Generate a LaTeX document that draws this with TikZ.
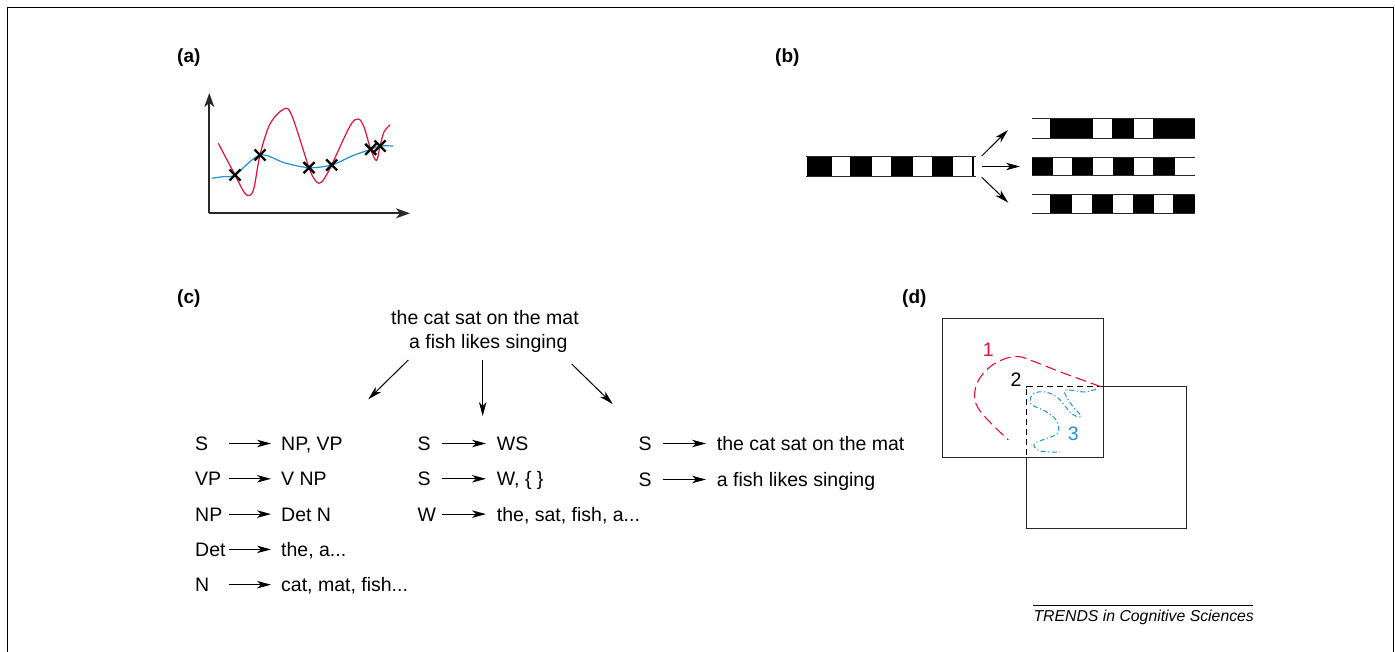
\documentclass[tikz,border=0pt]{standalone}
\usepackage{fontspec}
\setmainfont{Liberation Sans}
\usetikzlibrary{arrows.meta}
\definecolor{myred}{RGB}{222,16,56}
\definecolor{myblue}{RGB}{28,146,208}
\definecolor{axisgrey}{RGB}{40,40,40}
\begin{document}
\begin{tikzpicture}[x=1pt,y=-1pt,
  txt/.style={font=\fontsize{19.5}{23}\selectfont, inner sep=0pt, anchor=base west},
  ctxt/.style={font=\fontsize{19.5}{23}\selectfont, inner sep=0pt, anchor=base},
  lab/.style={font=\bfseries\fontsize{19}{23}\selectfont, inner sep=0pt, anchor=base west},
  arr/.style={-{Stealth[length=14pt,width=7.5pt,inset=4pt]}, line width=1pt},
  axisline/.style={-{Stealth[length=14pt,width=10pt,inset=4pt]}, line width=1.8pt, draw=axisgrey},
  cross/.style={line width=2.4pt},
  stripline/.style={line width=1pt, draw=axisgrey},
  sq/.style={line width=1pt, draw=black!85},
]
\useasboundingbox (0,0) rectangle (1395,652);
% frame
\draw[line width=1pt] (7.3,652) -- (7.3,7.3) -- (1393.3,7.3) -- (1393.3,652);

% panel labels
\node[lab] (la) at (177,63) {(a)};
\node[lab] (lb) at (775,63) {(b)};
\node[lab] (lc) at (177,304) {(c)};
\node[lab] (ld) at (902,304) {(d)};

% ---------------- panel (a)
\coordinate (orig) at (209.3,213.3);
\coordinate (ytip) at (209.3,93);
\coordinate (xtip) at (410,213.3);
\draw[axisline] (orig) -- (ytip);
\draw[axisline] (orig) -- (xtip);
\draw[myred, line width=1.2pt] plot[smooth, tension=0.55] coordinates {
  (218.3,143.3) (235,175) (244,192) (249.5,195.5) (254,188) (260,155) (270,124) (284,109) (292,116)
  (309,167.7) (315,180) (319.3,183.3) (324,179) (331.7,165) (350,126) (358.3,119) (364,127)
  (370.7,149.3) (376.5,160.5) (380,146) (384,132) (390,125)};
\draw[myblue, line width=1.2pt] plot[smooth, tension=0.5] coordinates {
  (211.7,178.3) (224,176.5) (235,175) (260,155) (285,163) (309,167.7) (331.7,165) (352,156)
  (370.7,149.3) (380,146) (393.3,146)};
\foreach \px/\py [count=\i] in {235/175, 260/155, 309/167.7, 331.7/165, 370.7/149.3, 380/146}{
  \coordinate (x\i) at (\px,\py);
  \draw[cross] ([shift={(-5.5,-5.5)}]x\i) -- ([shift={(5.5,5.5)}]x\i);
  \draw[cross] ([shift={(-5.5,5.5)}]x\i) -- ([shift={(5.5,-5.5)}]x\i);
}

% ---------------- panel (b)
% left strip
\foreach \a/\b in {807/831.7, 850/871.7, 891/912.7, 932.3/953.3, 971.7/974}
  \fill (\a,157) rectangle (\b,176.5);
\draw[stripline] (806,157) -- (976,157);
\draw[stripline] (806,176.5) -- (976,176.5);
% top right strip
\foreach \a/\b in {1050/1092.7, 1111.7/1134, 1153/1195}
  \fill (\a,119) rectangle (\b,138.3);
\draw[stripline] (1031.7,119) -- (1195,119);
\draw[stripline] (1031.7,138.3) -- (1195,138.3);
% middle right strip
\foreach \a/\b in {1031.7/1053.3, 1071.7/1092.7, 1112.7/1134, 1153.3/1175}
  \fill (\a,157.3) rectangle (\b,176);
\draw[stripline] (1031.7,157.3) -- (1195,157.3);
\draw[stripline] (1031.7,176) -- (1195,176);
% bottom right strip
\foreach \a/\b in {1050/1071.7, 1091.7/1112.7, 1133.3/1154, 1173.3/1195}
  \fill (\a,195) rectangle (\b,214);
\draw[stripline] (1031.7,195) -- (1195,195);
\draw[stripline] (1031.7,214) -- (1195,214);
% arrows
\coordinate (b1s) at (981.7,156);   \coordinate (b1e) at (1008,130);
\coordinate (b2s) at (981.7,166.5); \coordinate (b2e) at (1020,166.5);
\coordinate (b3s) at (981.7,177.3); \coordinate (b3e) at (1008.3,202.7);
\draw[arr] (b1s) -- (b1e);
\draw[arr] (b2s) -- (b2e);
\draw[arr] (b3s) -- (b3e);

% ---------------- panel (c)
\node[ctxt] (s1) at (485,324.3) {the cat sat on the mat};
\node[ctxt] (s2) at (488.3,348.3) {a fish likes singing};
\coordinate (c1s) at (408.3,360);   \coordinate (c1e) at (368.3,399.3);
\coordinate (c2s) at (482.7,360);   \coordinate (c2e) at (482.7,416);
\coordinate (c3s) at (571.7,364);   \coordinate (c3e) at (612.7,404);
\draw[arr] (c1s) -- (c1e);
\draw[arr] (c2s) -- (c2e);
\draw[arr] (c3s) -- (c3e);

\foreach \l/\r/\y [count=\i] in {S/{NP, VP}/450.5, VP/{V NP}/485.8, NP/{Det N}/521.1, Det/{the, a...}/556.4, N/{cat, mat, fish...}/591.7}{
  \node[txt] (gl\i) at (195,\y) {\l};
  \node[txt] (gr\i) at (281,\y) {\r};
  \coordinate (ga\i) at (229.3,\y-7);
  \coordinate (gb\i) at (271,\y-7);
  \draw[arr] (ga\i) -- (gb\i);
}
\foreach \l/\r/\y [count=\i] in {S/{WS}/450.5, S/{W, \{ \}}/485.8, W/{the, sat, fish, a...}/521.1}{
  \node[txt] (ml\i) at (417.3,\y) {\l};
  \node[txt] (mr\i) at (496.7,\y) {\r};
  \coordinate (ma\i) at (442.3,\y-7);
  \coordinate (mb\i) at (486,\y-7);
  \draw[arr] (ma\i) -- (mb\i);
}
\foreach \l/\r/\y [count=\i] in {S/{the cat sat on the mat}/450.5, S/{a fish likes singing}/486.5}{
  \node[txt] (rl\i) at (638.3,\y) {\l};
  \node[txt] (rr\i) at (716.7,\y) {\r};
  \coordinate (ra\i) at (662.7,\y-7);
  \coordinate (rb\i) at (706,\y-7);
  \draw[arr] (ra\i) -- (rb\i);
}

% ---------------- panel (d)
\draw[sq] (942.3,318.3) rectangle (1103.3,457.3);
\draw[sq] (1026,386.7) rectangle (1186,528.3);
\coordinate (corner) at (1026,386.7);
\coordinate (dr) at (1103.3,386.7);
\coordinate (db) at (1026,457.3);
\draw[white, line width=1.6pt] (1026,388) -- (1026,456.5);
\draw[white, line width=1.6pt] (1027,386.7) -- (1102.5,386.7);
\draw[dash pattern=on 6pt off 4pt, line width=1pt] (dr) -- (corner) -- (db);
\draw[myred, line width=1.1pt, dash pattern=on 11pt off 5pt] plot[smooth, tension=0.6] coordinates {
  (1101,386.7) (1063.3,373) (1030,360) (1018,356.5) (1003.3,359.3) (988.3,368.3) (977,383.3)
  (975,400) (983.3,415) (1008.3,440)};
\draw[myblue, line width=1pt, dash pattern=on 5pt off 2.5pt on 1.2pt off 2.5pt] plot[smooth, tension=0.6] coordinates {
  (1096,389) (1085,392) (1065,390.5) (1071,404) (1081,416) (1072,414) (1058,398) (1045,392) (1033,394)
  (1031,404) (1045,411) (1056,420) (1058,433) (1045,439) (1034,444) (1040,451) (1060,452)};
\node[font=\fontsize{19.5}{23}\selectfont, text=myred, inner sep=0pt] (n1) at (988.3,350) {1};
\node[font=\fontsize{19.5}{23}\selectfont, inner sep=0pt] (n2) at (1016,380) {2};
\node[font=\fontsize{19.5}{23}\selectfont, text=myblue, inner sep=0pt] (n3) at (1073.3,433.3) {3};

% ---------------- credit
\coordinate (cl) at (1033.3,605.7);
\coordinate (cr) at (1253.3,605.7);
\draw[line width=0.9pt] (cl) -- (cr);
\node[font=\itshape\fontsize{15.8}{18}\selectfont, inner sep=0pt, anchor=base west] (credit) at (1033.3,621.5) {TRENDS in Cognitive Sciences};
\end{tikzpicture}
\end{document}
